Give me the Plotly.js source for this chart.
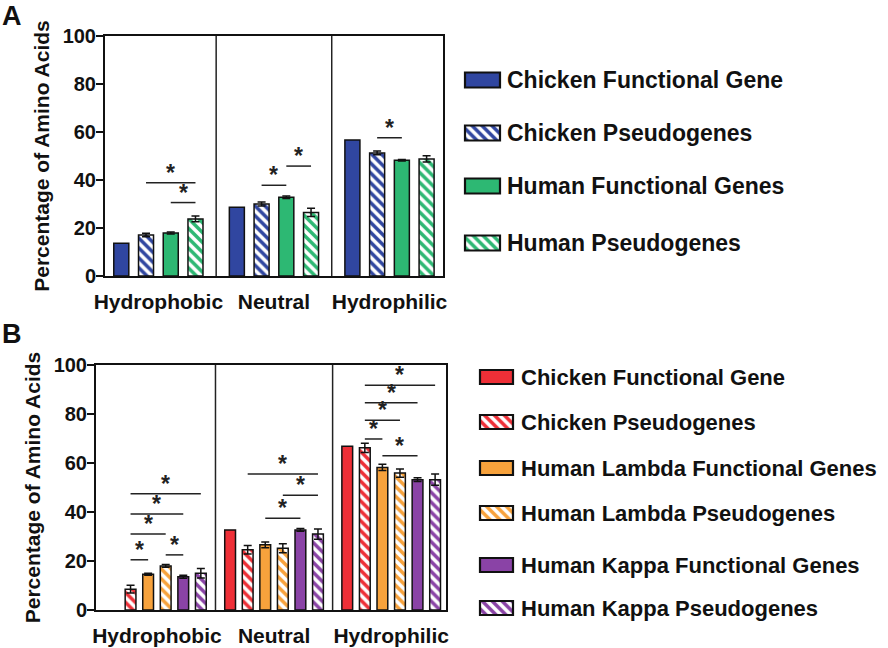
<!DOCTYPE html>
<html>
<head>
<meta charset="utf-8">
<script src="https://cdn.plot.ly/plotly-3.0.1.min.js"></script>
<style>
  html, body { margin: 0; padding: 0; background: #fff; }
  #chart { width: 888px; height: 648px; }
</style>
</head>
<body>
<div id="chart"></div>
<script>
/* -------------------- Data -------------------- */

const categories = ["Hydrophobic", "Neutral", "Hydrophilic"];

// Panel A
const aNames = ["Chicken Functional Gene", "Chicken Pseudogenes", "Human Functional Genes", "Human Pseudogenes"];
const aChickenFunctional = [13.6, 28.6, 56.7];
const aChickenPseudo = [17.1, 30.0, 51.3];
const aHumanFunctional = [17.9, 32.8, 48.2];
const aHumanPseudo = [23.8, 26.5, 48.8];
const aChickenPseudoErr = [0.7, 0.8, 0.8];
const aHumanFunctionalErr = [0.4, 0.5, 0.3];
const aHumanPseudoErr = [1.2, 1.7, 1.3];

// significance bars: category, from bar, to bar, height
const aSigCat = [0, 0, 1, 1, 2];
const aSigFrom = [1, 2, 1, 2, 1];
const aSigTo = [3, 3, 2, 3, 2];
const aSigLevel = [38.9, 30.6, 37.8, 45.8, 57.6];

// Panel B
const bNames = ["Chicken Functional Gene", "Chicken Pseudogenes", "Human Lambda Functional Genes",
  "Human Lambda Pseudogenes", "Human Kappa Functional Genes", "Human Kappa Pseudogenes"];
const bChickenFunctional = [null, 32.7, 66.8];
const bChickenPseudo = [8.5, 24.6, 66.2];
const bLambdaFunctional = [14.6, 26.6, 58.2];
const bLambdaPseudo = [18.0, 25.2, 55.9];
const bKappaFunctional = [13.6, 32.7, 53.2];
const bKappaPseudo = [15.0, 31.0, 53.2];
const bChickenPseudoErr = [1.6, 1.7, 1.9];
const bLambdaFunctionalErr = [0.4, 1.2, 1.3];
const bLambdaPseudoErr = [0.6, 1.8, 1.7];
const bKappaFunctionalErr = [0.6, 0.6, 0.8];
const bKappaPseudoErr = [1.9, 2.1, 2.3];

const bSigCat = [0, 0, 0, 0, 0, 1, 1, 1, 2, 2, 2, 2, 2];
const bSigFrom = [1, 3, 1, 1, 1, 2, 3, 1, 1, 1, 1, 1, 2];
const bSigTo = [2, 4, 3, 4, 5, 4, 5, 5, 2, 3, 4, 5, 4];
const bSigLevel = [20.5, 22.5, 31.0, 39.2, 47.5, 37.5, 46.8, 55.5, 69.8, 77.4, 84.6, 91.7, 63.0];

/* -------------------- Styling -------------------- */

const W = 888, H = 648;
const FONT = "Liberation Sans, Arial, Helvetica, sans-serif";
const BLUE = "#3046a0", GREEN = "#2db873", RED = "#ee2f37", ORANGE = "#f7a23c", PURPLE = "#8a43a6";

const panelA = {
  x: "x", y: "y", box: [105, 443, 36, 276], range: [-0.462, 2.463],
  slot: 0.214, barW: 0.13,
  series: [aChickenFunctional, aChickenPseudo, aHumanFunctional, aHumanPseudo],
  errors: [null, aChickenPseudoErr, aHumanFunctionalErr, aHumanPseudoErr],
  colors: [BLUE, BLUE, GREEN, GREEN],
  hatched: [false, true, false, true],
  names: aNames,
  sig: [aSigCat, aSigFrom, aSigTo, aSigLevel],
  legend: { x0: 465, w: 35, h: 15, textX: 505, rows: [80, 133, 186, 243], size: 23 },
};

const panelB = {
  x: "x2", y: "y2", box: [96, 446, 365, 610], range: [-0.52, 2.468],
  slot: 0.15, barW: 0.092,
  series: [bChickenFunctional, bChickenPseudo, bLambdaFunctional, bLambdaPseudo, bKappaFunctional, bKappaPseudo],
  errors: [null, bChickenPseudoErr, bLambdaFunctionalErr, bLambdaPseudoErr, bKappaFunctionalErr, bKappaPseudoErr],
  colors: [RED, RED, ORANGE, ORANGE, PURPLE, PURPLE],
  hatched: [false, true, false, true, false, true],
  names: bNames,
  sig: [bSigCat, bSigFrom, bSigTo, bSigLevel],
  legend: { x0: 480, w: 33, h: 14, textX: 519, rows: [377, 422, 468, 513, 565, 608], size: 22 },
};

/* -------------------- Helpers -------------------- */

function barCenter(p, cat, i) {
  const n = p.series.length;
  return cat + (i - (n - 1) / 2) * p.slot;
}

function markerFor(p, i, lw) {
  const m = { color: p.hatched[i] ? "#fff" : p.colors[i], line: { color: "#111", width: lw } };
  if (p.hatched[i]) {
    m.pattern = { shape: "\\", fgcolor: p.colors[i], bgcolor: "#fff", size: 7, solidity: 0.5,
      fillmode: "replace", fgopacity: 1 };
  }
  return m;
}

const traces = [];
const shapes = [];
const annotations = [];

function buildPanel(p) {
  const n = p.series.length;
  p.series.forEach((vals, i) => {
    const t = {
      type: "bar",
      x: categories,
      y: vals,
      xaxis: p.x,
      yaxis: p.y,
      width: p.barW,
      offset: (i - (n - 1) / 2) * p.slot - p.barW / 2,
      marker: markerFor(p, i, 1.5),
      showlegend: false,
      name: p.names[i],
    };
    if (p.errors[i]) {
      t.error_y = { type: "data", array: p.errors[i], visible: true, color: "#111", thickness: 1.5, width: 4 };
    }
    traces.push(t);
  });

  // group dividers
  [0.5, 1.5].forEach((xv) => {
    shapes.push({ type: "line", xref: p.x, yref: p.y, x0: xv, x1: xv, y0: 0, y1: 100,
      line: { color: "#222", width: 1.5 } });
  });

  // significance lines + stars
  const [cats, from, to, lvl] = p.sig;
  cats.forEach((c, k) => {
    const xa = barCenter(p, c, from[k]);
    const xb = barCenter(p, c, to[k]);
    shapes.push({ type: "line", xref: p.x, yref: p.y, x0: xa, x1: xb, y0: lvl[k], y1: lvl[k],
      line: { color: "#222", width: 1.5 } });
    annotations.push({ xref: p.x, yref: p.y, x: (xa + xb) / 2, y: lvl[k], text: "*",
      showarrow: false, yanchor: "bottom", yshift: -5,
      font: { family: FONT, size: 23, color: "#222", weight: "bold" } });
  });

  // legend swatches drawn as bars on a pixel-unit overlay axis
  const L = p.legend;
  p.names.forEach((name, i) => {
    traces.push({
      type: "bar",
      orientation: "h",
      y: [L.rows[i]],
      x: [L.w],
      base: [L.x0],
      width: L.h,
      xaxis: "x3",
      yaxis: "y3",
      marker: markerFor(p, i, 2.2),
      showlegend: false,
      hoverinfo: "skip",
    });
    annotations.push({ xref: "x3", yref: "y3", x: L.textX, y: L.rows[i], text: name,
      showarrow: false, xanchor: "left", yanchor: "middle",
      font: { family: FONT, size: L.size, color: "#111", weight: "bold" } });
  });
}

buildPanel(panelA);
buildPanel(panelB);

function xAxisFor(p) {
  return {
    domain: [p.box[0] / W, p.box[1] / W],
    range: p.range,
    type: "category",
    showline: true, mirror: true, linecolor: "#111", linewidth: 2,
    ticks: "", showgrid: false, zeroline: false,
    ticklabelstandoff: 6,
    tickfont: { family: FONT, size: 21, color: "#111", weight: "bold" },
    fixedrange: true,
  };
}

function yAxisFor(p) {
  return {
    domain: [1 - p.box[3] / H, 1 - p.box[2] / H],
    range: [0, 100],
    dtick: 20,
    showline: true, mirror: true, linecolor: "#111", linewidth: 2,
    ticks: "outside", ticklen: 7, tickwidth: 2, tickcolor: "#111",
    ticklabelstandoff: -4,
    showgrid: false, zeroline: false,
    tickfont: { family: FONT, size: 20, color: "#111", weight: "bold" },
    title: { text: "Percentage of Amino Acids", standoff: 7,
      font: { family: FONT, size: 21, color: "#111", weight: "bold" } },
    fixedrange: true,
  };
}

// panel letters
annotations.push({ xref: "paper", yref: "paper", x: 0, y: 1 - 16 / H, text: "A", showarrow: false,
  xanchor: "left", yanchor: "middle", font: { family: FONT, size: 27, color: "#111", weight: "bold" } });
annotations.push({ xref: "paper", yref: "paper", x: 0, y: 1 - 334 / H, text: "B", showarrow: false,
  xanchor: "left", yanchor: "middle", font: { family: FONT, size: 27, color: "#111", weight: "bold" } });

const layout = {
  width: W,
  height: H,
  margin: { l: 0, r: 0, t: 0, b: 0 },
  paper_bgcolor: "#fff",
  plot_bgcolor: "rgba(0,0,0,0)",
  barmode: "overlay",
  showlegend: false,
  xaxis: xAxisFor(panelA),
  yaxis: yAxisFor(panelA),
  xaxis2: Object.assign(xAxisFor(panelB), { anchor: "y2" }),
  yaxis2: Object.assign(yAxisFor(panelB), { anchor: "x2" }),
  xaxis3: { domain: [0, 1], range: [0, W], visible: false, fixedrange: true, anchor: "y3" },
  yaxis3: { domain: [0, 1], range: [H, 0], visible: false, fixedrange: true, anchor: "x3" },
  shapes: shapes,
  annotations: annotations,
};

Plotly.newPlot("chart", traces, layout, { displayModeBar: false, staticPlot: true });
</script>
</body>
</html>
